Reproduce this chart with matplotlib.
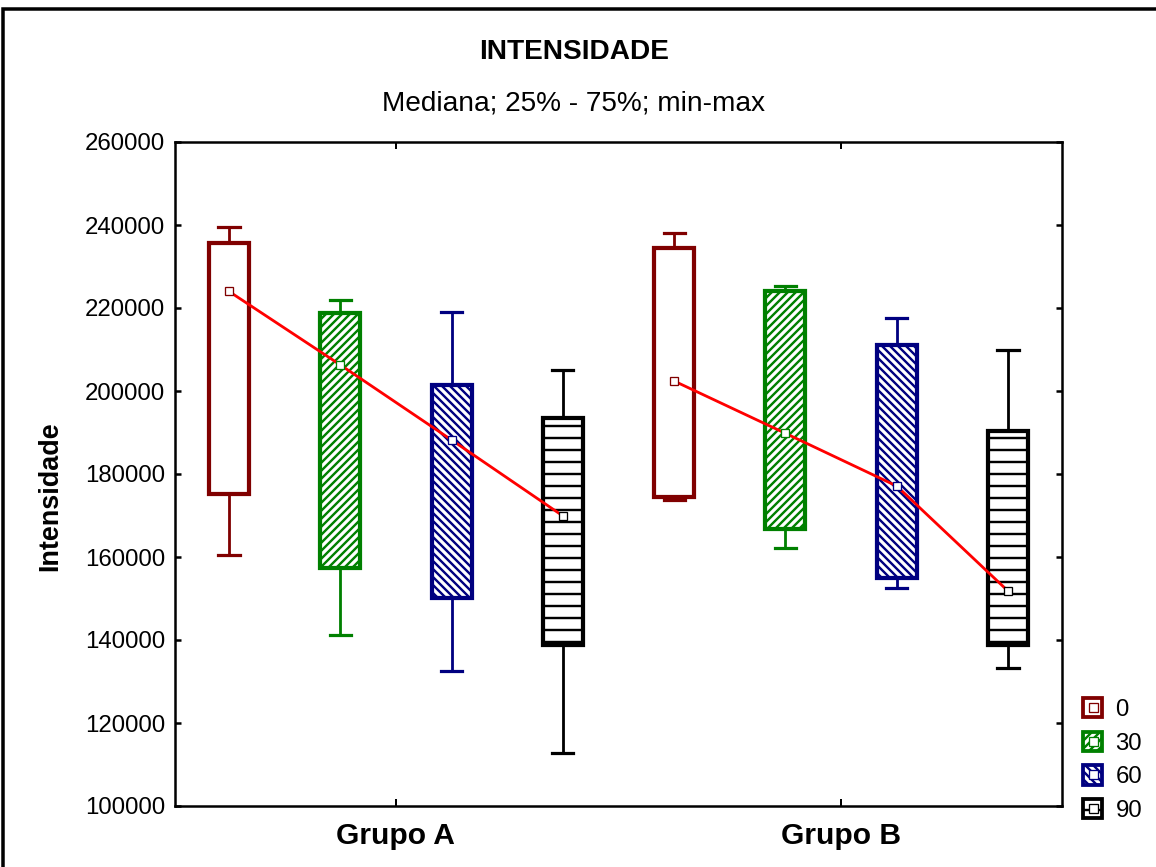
import numpy as np
import matplotlib
matplotlib.use('Agg')
import matplotlib.pyplot as plt
from matplotlib.patches import Patch, Rectangle
from matplotlib.lines import Line2D

# values (median, quartiles, min/max)
groups = ['Grupo A', 'Grupo B']
series = ['0', '30', '60', '90']

med_a = [224000, 206300, 188200, 169900]
q1_a = [175200, 157300, 150100, 138800]
q3_a = [235700, 218800, 201500, 193500]
min_a = [160500, 141200, 132500, 112800]
max_a = [239600, 222000, 219000, 205100]

med_b = [202400, 189800, 177100, 151800]
q1_b = [174400, 166700, 154900, 138800]
q3_b = [234400, 224100, 211100, 190400]
min_b = [173700, 162200, 152500, 133200]
max_b = [238000, 225300, 217600, 209900]

colors = ['#800000', '#008000', '#000080', '#000000']
hatches = ['', '///', '\\\\\\', '-']

DPI = 72
plt.rcParams['font.family'] = ['Liberation Sans', 'DejaVu Sans']
plt.rcParams['hatch.linewidth'] = 2.4

fig = plt.figure(figsize=(1156 / DPI, 867 / DPI), dpi=DPI)
ax = fig.add_axes([175 / 1156, 1 - 806 / 867, 887 / 1156, 664 / 867])

stats_groups = [(med_a, q1_a, q3_a, min_a, max_a), (med_b, q1_b, q3_b, min_b, max_b)]
pos = 0
for g, (med, q1, q3, lo, hi) in enumerate(stats_groups):
    xs = []
    for i in range(len(series)):
        st = [dict(med=med[i], q1=q1[i], q3=q3[i], whislo=lo[i], whishi=hi[i])]
        c = colors[i]
        ax.bxp(st, positions=[pos], widths=0.36, patch_artist=True, showfliers=False,
               boxprops=dict(facecolor='white', edgecolor=c, linewidth=4.2, hatch=hatches[i]),
               whiskerprops=dict(color=c, linewidth=2.8),
               capprops=dict(color=c, linewidth=3.2),
               medianprops=dict(linewidth=0),
               capwidths=0.19)
        xs.append(pos)
        pos += 1
    ax.plot(xs, med, color='red', linewidth=2.8, zorder=5)
    for i in range(len(series)):
        ax.plot(xs[i], med[i], marker='s', markersize=8.5, markerfacecolor='white',
                markeredgecolor=colors[i], markeredgewidth=1.3, zorder=6)

ax.set_xlim(-0.485, 7.485)
ax.set_ylim(100000, 260000)
ax.set_yticks(np.arange(100000, 260001, 20000))
ax.set_xticks([1.5, 5.5])
ax.set_xticklabels(groups, fontsize=30, fontweight='bold')
ax.tick_params(axis='y', which='both', direction='in', left=True, right=True,
               length=6, width=2.5, labelsize=24, pad=10)
ax.tick_params(axis='x', direction='in', top=True, bottom=True, length=7, width=2, pad=16)
for s in ax.spines.values():
    s.set_linewidth(2.5)
ax.set_ylabel('Intensidade', fontsize=27, fontweight='bold')
ax.yaxis.set_label_coords(-0.126, 0.467)

fig.text(574 / 1156, 1 - 52 / 867, 'INTENSIDADE', ha='center', va='center',
         fontsize=28, fontweight='bold')
fig.text(574 / 1156, 1 - 104 / 867, 'Mediana; 25% - 75%; min-max', ha='center',
         va='center', fontsize=28)

handles = []
for i in range(len(series)):
    p = Patch(facecolor='white', edgecolor=colors[i], hatch=hatches[i], linewidth=3.8)
    m = Line2D([], [], linestyle='none', marker='s', markersize=9, markerfacecolor='white',
               markeredgecolor=colors[i], markeredgewidth=1.3)
    handles.append((p, m))
fig.legend(handles, series, loc='upper left', bbox_to_anchor=(1071 / 1156, 1 - 686 / 867),
           frameon=False, fontsize=24, handlelength=0.8, handleheight=0.85,
           handletextpad=0.55, labelspacing=0.45, borderpad=0)

fig.patches.append(Rectangle((3 / 1156, -0.05), 1.1, 1 - 9 / 867 + 0.05,
                             transform=fig.transFigure, fill=False, edgecolor='black',
                             linewidth=3.5))

fig.savefig('out.png', dpi=DPI)
